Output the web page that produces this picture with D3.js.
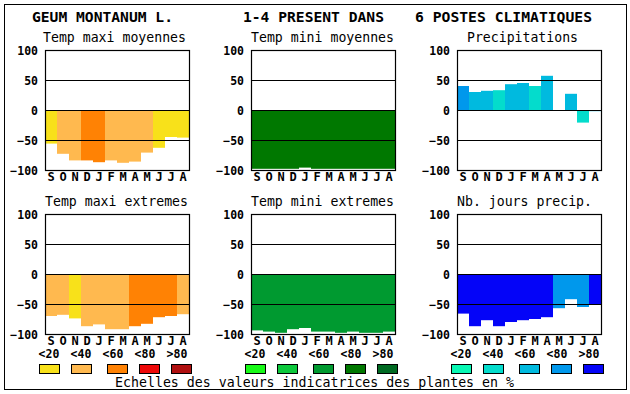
<!DOCTYPE html>
<html><head><meta charset="utf-8">
<script src="https://cdn.jsdelivr.net/npm/d3@7"></script>
<style>
html,body{margin:0;padding:0;background:#fff;}
svg{display:block;}
</style></head>
<body>
<svg id="c" width="630" height="394"></svg>
<script>
// ---------- DATA ----------
const months = ["S","O","N","D","J","F","M","A","M","J","J","A"];
const yTicks = [100, 50, 0, -50, -100];
const gridValues = [50, 0, -50];
const classLabels = ["<20","<40","<60","<80",">80"];

const titleParts = ["GEUM MONTANUM L.", "1-4 PRESENT DANS", "6 POSTES CLIMATIQUES"];
const legendText = "Echelles des valeurs indicatrices des plantes en %";

const warmPalette  = ["#f8e11a", "#ffb94f", "#ff8204", "#ee0808", "#b01010"];
const greenPalette = ["#18fa18", "#0cc83c", "#009a30", "#007800", "#006a22"];
const bluePalette  = ["#08f8b4", "#04dccc", "#00badf", "#0098ec", "#0404f8"];

const panelTitles = ["Temp maxi moyennes", "Temp mini moyennes", "Precipitations",
                     "Temp maxi extremes", "Temp mini extremes", "Nb. jours precip."];

const tmaxMoyValues  = [-56, -73, -84, -84, -87, -84, -88, -86, -71, -63, -45, -46];
const tmaxMoyClasses = [0, 1, 1, 2, 2, 1, 1, 1, 1, 0, 0, 0];

const tminMoyValues  = [-98, -98, -98, -98, -96, -98, -98, -98, -98, -98, -98, -98];
const tminMoyClasses = [3, 3, 3, 3, 3, 3, 3, 3, 3, 3, 3, 3];

const precValues  = [40, 30, 32, 33, 43, 45, 40, 57, 0, 27, -21, -2];
const precClasses = [3, 2, 2, 1, 2, 2, 1, 2, 2, 2, 1, 2];

const tmaxExtValues  = [-70, -68, -74, -87, -84, -92, -92, -87, -83, -72, -70, -67];
const tmaxExtClasses = [1, 1, 0, 1, 1, 1, 1, 2, 2, 2, 2, 1];

const tminExtValues  = [-94, -96, -98, -92, -90, -96, -96, -98, -96, -98, -98, -96];
const tminExtClasses = [2, 2, 2, 2, 2, 2, 2, 2, 2, 2, 2, 2];

const joursValues  = [-66, -87, -77, -87, -80, -77, -75, -72, -57, -42, -55, -50];
const joursClasses = [4, 4, 4, 4, 4, 4, 4, 4, 3, 3, 3, 4];

// ---------- LAYOUT ----------
const svg = d3.select("#c");
const MONO = "'DejaVu Sans Mono', 'Liberation Mono', monospace";
const colX = [45, 251, 457];
const rowY = [50, 214];
const PW = 144, PH = 120;

// outer frame
svg.append("rect").attr("x", 4.5).attr("y", 4.5).attr("width", 622).attr("height", 385)
  .attr("fill", "none").attr("stroke", "#000").attr("stroke-width", 1);

// title
const titleX = [32, 243, 415];
titleParts.forEach((t, i) => {
  svg.append("text").attr("x", titleX[i]).attr("y", 22)
    .attr("font-family", MONO).attr("font-weight", "bold").attr("font-size", 13.5)
    .attr("textLength", t.length * 9 - 3).attr("lengthAdjust", "spacingAndGlyphs")
    .text(t);
});

const panels = [
  {values: tmaxMoyValues, classes: tmaxMoyClasses, palette: warmPalette, col: 0, row: 0, tx: 43},
  {values: tminMoyValues, classes: tminMoyClasses, palette: greenPalette, col: 1, row: 0, tx: 251},
  {values: precValues,    classes: precClasses,    palette: bluePalette,  col: 2, row: 0, tx: 467},
  {values: tmaxExtValues, classes: tmaxExtClasses, palette: warmPalette, col: 0, row: 1, tx: 45},
  {values: tminExtValues, classes: tminExtClasses, palette: greenPalette, col: 1, row: 1, tx: 251},
  {values: joursValues,   classes: joursClasses,   palette: bluePalette,  col: 2, row: 1, tx: 457},
];

panels.forEach((p, pi) => {
  const x0 = colX[p.col], y0 = rowY[p.row];
  const x = d3.scaleBand().domain(d3.range(months.length)).range([x0, x0 + PW]).padding(0);
  const y = d3.scaleLinear().domain([-100, 100]).range([y0 + PH, y0]);
  const g = svg.append("g");

  // panel title
  g.append("text").attr("x", p.tx).attr("y", y0 - 8)
    .attr("font-family", MONO).attr("font-size", 13.3)
    .attr("textLength", panelTitles[pi].length * 8 - 1).attr("lengthAdjust", "spacingAndGlyphs")
    .text(panelTitles[pi]);

  // bars
  g.selectAll("rect.bar").data(p.values).join("rect").attr("class", "bar")
    .attr("x", (d, i) => x(i))
    .attr("width", x.bandwidth())
    .attr("y", d => Math.min(y(0), y(d)))
    .attr("height", d => Math.abs(y(d) - y(0)))
    .attr("fill", (d, i) => p.palette[p.classes[i]]);

  // grid lines
  g.selectAll("line.grid").data(gridValues).join("line").attr("class", "grid")
    .attr("x1", x0).attr("x2", x0 + PW)
    .attr("y1", d => Math.round(y(d)) + 0.5).attr("y2", d => Math.round(y(d)) + 0.5)
    .attr("stroke", "#000").attr("stroke-width", 1.2);

  // frame
  g.append("rect").attr("x", x0 + 0.5).attr("y", y0 + 0.5).attr("width", PW).attr("height", PH)
    .attr("fill", "none").attr("stroke", "#000").attr("stroke-width", 1.2);

  // y axis
  const ya = g.append("g").attr("transform", `translate(${x0 - 7},0)`)
    .call(d3.axisLeft(y).tickValues(yTicks).tickSize(0).tickPadding(0).tickFormat(d3.format("d")));
  ya.select(".domain").remove();
  ya.selectAll("text").attr("font-family", MONO).attr("font-weight", "bold")
    .attr("font-size", 11.5).attr("fill", "#000").attr("dy", "0.36em");

  // x axis
  const xa = g.append("g").attr("transform", `translate(0,${y0 + PH})`)
    .call(d3.axisBottom(x).tickSize(0).tickPadding(0).tickFormat(i => months[i]));
  xa.select(".domain").remove();
  xa.selectAll("text").attr("font-family", MONO).attr("font-weight", "bold")
    .attr("font-size", 12).attr("fill", "#000").attr("dy", null).attr("y", 11);

  // class labels + legend squares for bottom row
  if (p.row === 1) {
    const lx = d3.scalePoint().domain(classLabels).range([x0 + 4, x0 + 4 + 128]);
    g.selectAll("text.cl").data(classLabels).join("text").attr("class", "cl")
      .attr("x", d => lx(d)).attr("y", 358).attr("text-anchor", "middle")
      .attr("font-family", MONO).attr("font-weight", "bold").attr("font-size", 11.5)
      .text(d => d);
    const sqShift = [0, 0, 4, 4, 4];
    g.selectAll("rect.sq").data(classLabels).join("rect").attr("class", "sq")
      .attr("x", (d, i) => lx(d) - 10 + sqShift[i] + 0.5).attr("y", 364.5)
      .attr("width", 20).attr("height", 9)
      .attr("fill", (d, i) => p.palette[i]).attr("stroke", "#000").attr("stroke-width", 1);
  }
});

svg.append("text").attr("x", 115).attr("y", 387)
  .attr("font-family", MONO).attr("font-size", 13.3)
  .attr("textLength", legendText.length * 8 - 1).attr("lengthAdjust", "spacingAndGlyphs")
  .text(legendText);
</script>
</body></html>
